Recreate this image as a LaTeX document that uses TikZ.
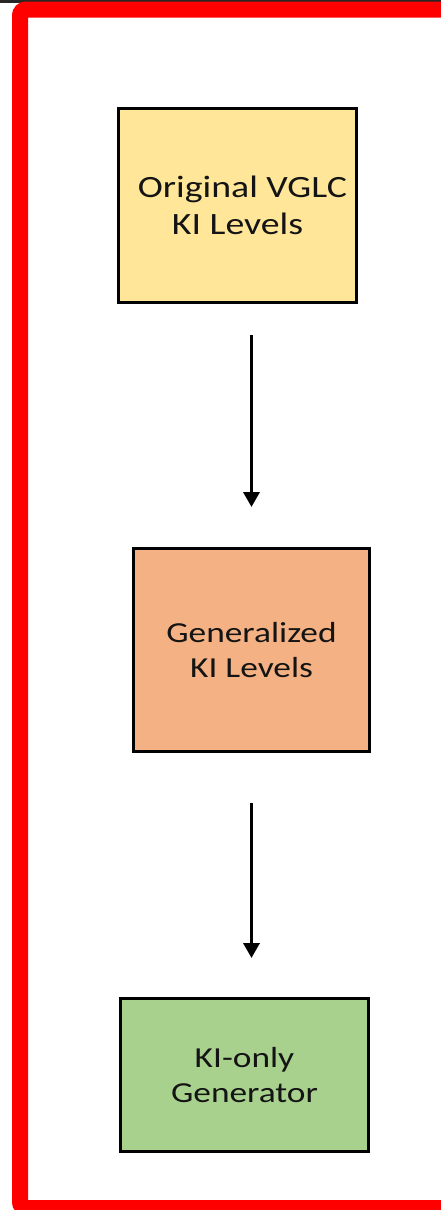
\documentclass[tikz,border=0pt]{standalone}
\usepackage{fontspec}
\setmainfont{Carlito}[FakeStretch=1.22]
\definecolor{frame}{RGB}{255,0,0}
\definecolor{topbar}{RGB}{38,38,38}
\definecolor{origfill}{RGB}{255,230,153}
\definecolor{genfill}{RGB}{244,177,131}
\definecolor{genrfill}{RGB}{169,209,142}
\definecolor{txt}{RGB}{20,20,20}
\usetikzlibrary{positioning, arrows.meta}

\begin{document}
\begin{tikzpicture}[x=1pt, y=-1pt,
  box/.style={draw=black, line width=3pt, align=center, text=txt,
    font=\fontsize{29}{35}\selectfont, inner sep=0pt},
  arw/.style={-{Triangle[width=16pt,length=15pt]}, line width=3.5pt, black},
]
\useasboundingbox (0,0) rectangle (441,1210);
\clip (0,0) rectangle (441,1210);
\fill[white] (0,0) rectangle (441,1210);

% ---- outer frame ----
\fill[topbar] (0,0) rectangle (441,3);
\draw[frame, line width=16pt, rounded corners=6pt] (20,9.5) rectangle (470,1208);

% ---- pipeline boxes ----
\node[box, fill=origfill, minimum width=238pt, minimum height=194pt,
  font=\fontsize{31}{37}\selectfont]
  (orig) at (237.5,205.5) {\hspace*{10pt}Original VGLC\\KI Levels};
\node[box, fill=genfill, minimum width=236pt, minimum height=203pt]
  (gen) at (251.5,650) {Generalized\\KI Levels};
\node[box, fill=genrfill, minimum width=248pt, minimum height=153pt]
  (genr) at (244.5,1075) {KI-only\\Generator};

% ---- arrows ----
\draw[arw, shorten <=31pt, shorten >=40pt] (orig.south -| gen.north) -- (gen.north);
\draw[arw, shorten <=50pt, shorten >=39pt] (gen.south) -- (gen.south |- genr.north);

\end{tikzpicture}
\end{document}
